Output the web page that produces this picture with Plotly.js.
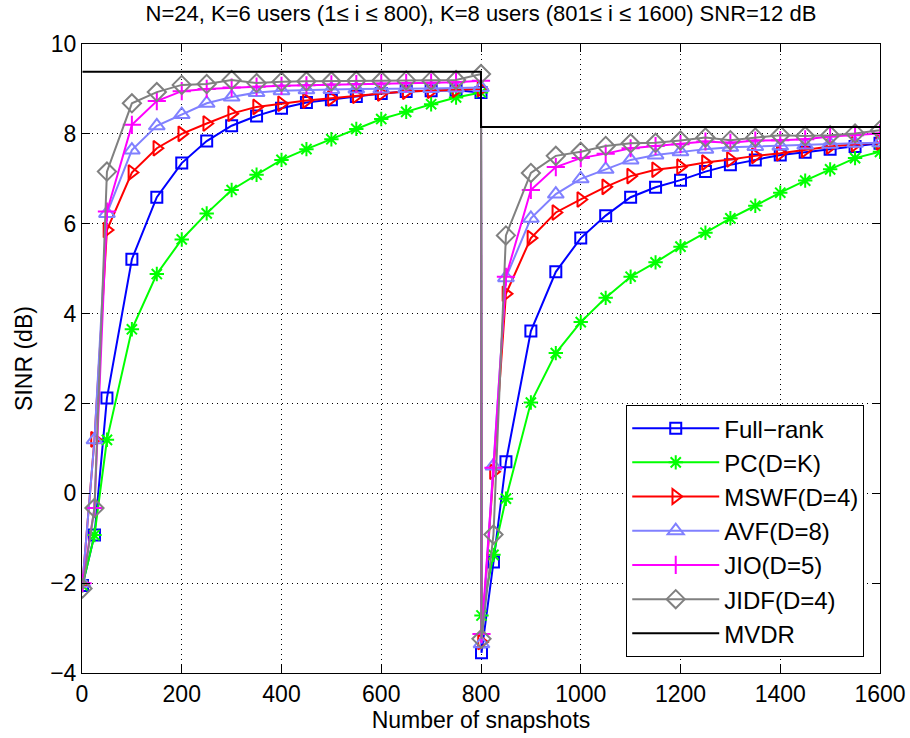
<!DOCTYPE html>
<html>
<head>
<meta charset="utf-8">
<script src="https://cdn.plot.ly/plotly-3.0.1.min.js"></script>
<style>html,body{margin:0;padding:0;background:#fff;}#chart{width:910px;height:738px;}</style>
</head>
<body>
<div id="chart"></div>
<script>
// Snapshot indices (shared by all adaptive curves)
const snapshots = [1,25,50,100,150,200,250,300,350,400,450,500,550,600,650,700,750,800,
                   801,825,850,900,950,1000,1050,1100,1150,1200,1250,1300,1350,1400,1450,1500,1550,1600];

const fullRank = [-2.05,-0.93,2.12,5.21,6.59,7.35,7.84,8.18,8.40,8.57,8.70,8.76,8.83,8.90,8.94,8.96,8.97,8.92,
                  -3.55,-1.53,0.70,3.61,4.93,5.68,6.18,6.59,6.81,6.97,7.16,7.31,7.42,7.53,7.59,7.66,7.72,7.79];
const pcDK     = [-2.05,-0.93,1.19,3.65,4.88,5.65,6.23,6.75,7.09,7.42,7.66,7.88,8.11,8.33,8.49,8.66,8.81,8.92,
                  -2.72,-1.37,-0.12,2.02,3.12,3.81,4.35,4.82,5.14,5.49,5.80,6.12,6.40,6.69,6.96,7.21,7.46,7.60];
const mswf     = [-2.00,1.20,5.86,7.14,7.68,8.00,8.23,8.45,8.60,8.67,8.74,8.79,8.85,8.90,8.94,8.96,8.98,9.00,
                  -3.31,0.48,4.44,5.68,6.25,6.54,6.82,7.06,7.20,7.27,7.36,7.43,7.51,7.57,7.64,7.72,7.77,7.81];
const avf      = [-2.00,1.19,6.23,7.64,8.18,8.43,8.68,8.82,8.92,8.96,8.98,8.99,9.00,9.00,9.01,9.01,9.02,9.03,
                  -3.35,0.61,4.80,6.12,6.66,7.00,7.21,7.42,7.53,7.60,7.66,7.70,7.72,7.73,7.75,7.77,7.79,7.80];
const jio      = [-2.00,-0.33,6.27,8.20,8.73,8.95,9.00,9.03,9.05,9.07,9.08,9.10,9.11,9.12,9.13,9.14,9.15,9.18,
                  -3.13,0.57,4.82,6.75,7.26,7.46,7.56,7.68,7.73,7.77,7.83,7.80,7.85,7.86,7.88,7.94,7.97,8.01];
const jidf     = [-2.12,-0.33,7.16,8.68,8.93,9.09,9.11,9.20,9.13,9.16,9.17,9.17,9.18,9.18,9.19,9.19,9.20,9.33,
                  -3.24,-0.92,5.74,7.13,7.51,7.60,7.73,7.79,7.80,7.85,7.92,7.86,7.92,7.97,7.95,7.97,8.01,8.08];

const mvdrX = [1, 800, 800, 1600];
const mvdrY = [9.38, 9.38, 8.15, 8.15];

const seriesNames = ['Full\u2212rank','PC(D=K)','MSWF(D=4)','AVF(D=8)','JIO(D=5)','JIDF(D=4)','MVDR'];
const xTicks = [0,200,400,600,800,1000,1200,1400,1600];
const yTicks = [-4,-2,0,2,4,6,8,10];

const FONT = 'Liberation Sans, Arial, Helvetica, sans-serif';

function curve(y, name, color, symbol, size, i){
  return {
    x: snapshots, y: y, name: name, type: 'scatter', mode: 'lines+markers', legendgroup: 'g' + i,
    line: {color: color, width: 2},
    marker: {symbol: symbol, size: size, color: color, line: {color: color, width: 2}}
  };
}

const data = [
  curve(fullRank, seriesNames[0], '#0000ff', 'square-open', 11, 0),
  curve(pcDK,     seriesNames[1], '#00ff00', 'asterisk-open', 12, 1),
  curve(mswf,     seriesNames[2], '#ff0000', 'triangle-right-open', 13, 2),
  curve(avf,      seriesNames[3], '#8080ff', 'triangle-up-open', 14, 3),
  curve(jio,      seriesNames[4], '#ff00ff', 'cross-thin-open', 13, 4),
  curve(jidf,     seriesNames[5], '#808080', 'diamond-open', 14, 5),
  {x: mvdrX, y: mvdrY, name: seriesNames[6], type: 'scatter', mode: 'lines', legendgroup: 'g6',
   line: {color: '#000000', width: 2}}
];

const axisCommon = {
  showline: true, linecolor: '#000', linewidth: 1, mirror: 'ticks',
  ticks: 'inside', ticklen: 8, tickcolor: '#000', tickwidth: 1,
  showgrid: true, gridcolor: '#000', gridwidth: 1, griddash: '1px,4px',
  zeroline: false, tickfont: {family: FONT, size: 23, color: '#000'}
};

const layout = {
  width: 910, height: 738,
  margin: {l: 82, r: 30, t: 44, b: 65},
  paper_bgcolor: '#fff', plot_bgcolor: '#fff',
  title: {text: 'N=24, K=6 users (1\u2264 i \u2264 800), K=8 users (801\u2264 i \u2264 1600) SNR=12 dB',
          font: {family: FONT, size: 22, color: '#000'},
          xref: 'container', x: 481 / 910, xanchor: 'center', yref: 'container', y: 0.982, yanchor: 'middle'},
  xaxis: Object.assign({}, axisCommon, {
    range: [0, 1600], tickvals: xTicks, ticktext: xTicks.map(String),
    title: {text: 'Number of snapshots', font: {family: FONT, size: 23, color: '#000'}, standoff: 5}
  }),
  yaxis: Object.assign({}, axisCommon, {
    range: [-4, 10], tickvals: yTicks, ticktext: yTicks.map(v => v < 0 ? '\u2212' + Math.abs(v) : String(v)),
    title: {text: 'SINR (dB)', font: {family: FONT, size: 23, color: '#000'}, standoff: 11}
  }),
  showlegend: true,
  legend: {x: 0.682, y: 0.426, xanchor: 'left', yanchor: 'top', traceorder: 'grouped',
           bgcolor: '#fff', bordercolor: '#000', borderwidth: 1,
           font: {family: FONT, size: 24, color: '#000'}, itemwidth: 87,
           tracegroupgap: 0}
};

Plotly.newPlot('chart', data, layout, {displayModeBar: false, staticPlot: true});
</script>
</body>
</html>
